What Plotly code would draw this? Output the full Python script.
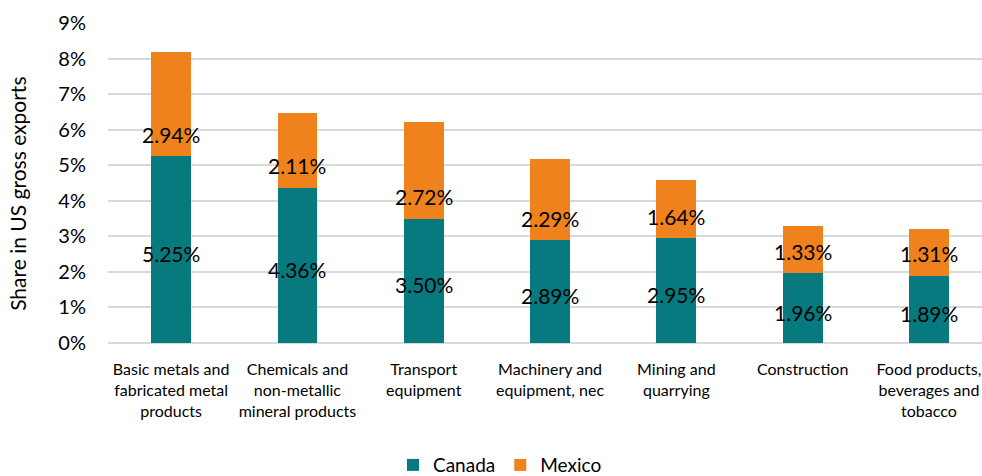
import plotly.graph_objects as go

categories = [
    "Basic metals and<br>fabricated metal<br>products",
    "Chemicals and<br>non-metallic<br>mineral products",
    "Transport<br>equipment",
    "Machinery and<br>equipment, nec",
    "Mining and<br>quarrying",
    "Construction",
    "Food products,<br>beverages and<br>tobacco",
]
canada = [5.25, 4.36, 3.50, 2.89, 2.95, 1.96, 1.89]
mexico = [2.94, 2.11, 2.72, 2.29, 1.64, 1.33, 1.31]
y_ticks = [0, 1, 2, 3, 4, 5, 6, 7, 8, 9]

TEAL = "#077A80"
ORANGE = "#F0821E"
FONT = "Lato"

fig = go.Figure()
fig.add_trace(go.Bar(x=categories, y=[v / 100 for v in canada], name="Canada",
                     marker=dict(color=TEAL, line=dict(width=0))))
fig.add_trace(go.Bar(x=categories, y=[v / 100 for v in mexico], name="Mexico",
                     marker=dict(color=ORANGE, line=dict(width=0))))

annotations = []
for c, cv, mv in zip(categories, canada, mexico):
    annotations.append(dict(x=c, y=cv / 200, text=f"{cv:.2f}%", showarrow=False,
                            font=dict(family=FONT, size=21, color="#000000"),
                            xref="x", yref="y", yanchor="middle", yshift=-4))
    annotations.append(dict(x=c, y=cv / 100, text=f"{mv:.2f}%", showarrow=False,
                            font=dict(family=FONT, size=21, color="#000000"),
                            xref="x", yref="y", yanchor="middle", yshift=22))

annotations.append(dict(x=-0.103, y=0.466, xref="paper", yref="paper",
                        text="Share in US gross exports", textangle=-90,
                        showarrow=False, font=dict(family=FONT, size=21, color="#000000"),
                        xanchor="center", yanchor="middle"))

fig.update_layout(
    width=982, height=476,
    barmode="stack",
    bargap=0.685,
    plot_bgcolor="white", paper_bgcolor="white",
    margin=dict(l=108, r=0, t=23, b=133, autoexpand=False),
    font=dict(family=FONT, size=16, color="#000000"),
    showlegend=True,
    legend=dict(orientation="h", x=0.4485, xanchor="center",
                yref="container", y=0.023, yanchor="middle",
                font=dict(family=FONT, size=19, color="#000000"), traceorder="normal"),
    annotations=annotations,
)
fig.update_xaxes(range=[-0.5, 6.42], showgrid=False, showline=False, zeroline=False,
                 tickfont=dict(family=FONT, size=16, color="#000000"),
                 ticklabelstandoff=15, automargin=False)
fig.update_yaxes(range=[0, 0.09], tickvals=[t / 100 for t in y_ticks],
                 ticktext=[f"{t}%" for t in y_ticks],
                 showgrid=True, gridcolor="#D9D9D9", gridwidth=1.5,
                 zeroline=True, zerolinecolor="#D9D9D9", zerolinewidth=1.5,
                 showline=False, automargin=False,
                 tickfont=dict(family=FONT, size=20, color="#000000"),
                 ticklabelstandoff=21)

fig.write_html("out.html", config={"displayModeBar": False},
               post_script="document.body.style.margin='0px';")
